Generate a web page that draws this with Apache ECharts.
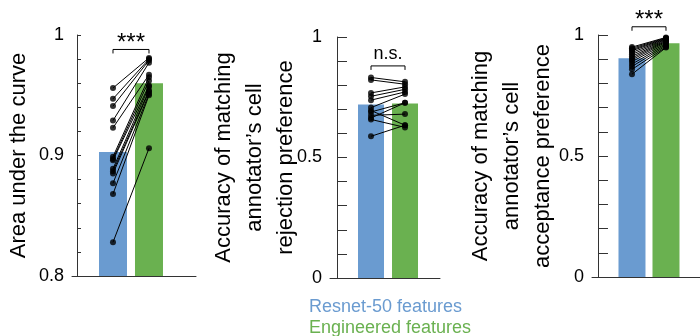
<!DOCTYPE html>
<html>
<head>
<meta charset="utf-8">
<script src="https://cdn.jsdelivr.net/npm/echarts@6/dist/echarts.min.js"></script>
<style>
html,body{margin:0;padding:0;background:#fff;}
#chart{width:700px;height:336px;}
</style>
</head>
<body>
<div id="chart"></div>
<script>
// ---- data ----
const categories = ['Resnet-50 features', 'Engineered features'];
const catPos = [1, 2];

// Panel 1: Area under the curve
const aucResnet     = [0.956, 0.947, 0.941, 0.929, 0.923, 0.899, 0.897, 0.896, 0.889, 0.887, 0.885, 0.877, 0.868, 0.828];
const aucEngineered = [0.981, 0.980, 0.979, 0.977, 0.967, 0.965, 0.962, 0.958, 0.957, 0.954, 0.953, 0.951, 0.950, 0.906];
const aucMeans      = [0.903, 0.960];

// Panel 2: rejection preference accuracy
const rejResnet     = [0.832, 0.822, 0.768, 0.754, 0.738, 0.707, 0.695, 0.689, 0.675, 0.664, 0.658, 0.588];
const rejEngineered = [0.814, 0.804, 0.793, 0.783, 0.772, 0.763, 0.634, 0.727, 0.680, 0.727, 0.625, 0.634];
const rejMeans      = [0.720, 0.724];

// Panel 3: acceptance preference accuracy
const accResnet     = [0.950, 0.945, 0.940, 0.935, 0.928, 0.920, 0.912, 0.905, 0.898, 0.890, 0.880, 0.870, 0.858, 0.838];
const accEngineered = [0.990, 0.988, 0.986, 0.984, 0.982, 0.980, 0.977, 0.974, 0.970, 0.965, 0.960, 0.955, 0.950, 0.948];
const accMeans      = [0.904, 0.966];

// tick values & labels
const yTicksAuc  = [0.8, 0.82, 0.84, 0.86, 0.88, 0.9, 0.92, 0.94, 0.96, 0.98, 1.0];
const yLabelsAuc = [0.8, 0.9, 1];
const yTicksAcc  = [0, 0.1, 0.2, 0.3, 0.4, 0.5, 0.6, 0.7, 0.8, 0.9, 1.0];
const yLabelsAcc = [0, 0.5, 1];

// significance annotations
const sigLabels = ['***', 'n.s.', '***'];
const sigLevels = [0.988, 0.880, 1.034];

const yTitles = [
  'Area under the curve',
  "Accuracy of matching\nannotator\u2019s cell\nrejection preference",
  "Accuracy of matching\nannotator\u2019s cell\nacceptance preference"
];

// ---- styling ----
const BLUE = '#6a9bd0';
const GREEN = '#6ab150';
const FONT = '"Liberation Sans", Arial, Helvetica, sans-serif';
const AXIS = '#333';

const panels = [
  { res: aucResnet, eng: aucEngineered, means: aucMeans, ymin: 0.8, ymax: 1, ticks: yTicksAuc, labels: yLabelsAuc,
    grid: { left: 72, top: 35, width: 124, height: 241 }, xmin: -0.139, xmax: 3.306, nameGap: 38, tickLen: 4, barWidth: 28 },
  { res: rejResnet, eng: rejEngineered, means: rejMeans, ymin: 0, ymax: 1, ticks: yTicksAcc, labels: yLabelsAcc,
    grid: { left: 330, top: 37, width: 110, height: 241 }, xmin: -0.206, xmax: 3.029, nameGap: 29, tickLen: 10, barWidth: 26 },
  { res: accResnet, eng: accEngineered, means: accMeans, ymin: 0, ymax: 1, ticks: yTicksAcc, labels: yLabelsAcc,
    grid: { left: 592, top: 35, width: 108, height: 242 }, xmin: -0.176, xmax: 3.0, nameGap: 34, tickLen: 10, barWidth: 27 }
];

const grid = [], xAxis = [], yAxis = [], series = [];

panels.forEach((p, i) => {
  grid.push(Object.assign({ containLabel: false }, p.grid));
  xAxis.push({
    type: 'value', gridIndex: i, min: p.xmin, max: p.xmax,
    axisLine: { show: true, lineStyle: { color: AXIS, width: 1 } },
    axisTick: { show: true, inside: true, length: 6, customValues: catPos, lineStyle: { color: AXIS } },
    axisLabel: { show: false },
    splitLine: { show: false }
  });
  yAxis.push({
    type: 'value', gridIndex: i, min: p.ymin, max: p.ymax,
    name: yTitles[i], nameLocation: 'middle', nameGap: p.nameGap, nameMoveOverlap: false,
    nameTextStyle: { fontSize: 22, color: '#000', fontFamily: FONT, lineHeight: 31, align: 'center' },
    axisLine: { show: true, lineStyle: { color: AXIS, width: 1 } },
    axisTick: { show: true, inside: true, length: p.tickLen, customValues: p.ticks, lineStyle: { color: AXIS } },
    axisLabel: { show: true, customValues: p.labels, fontSize: 18, color: '#000', fontFamily: FONT, margin: 8,
      formatter: v => String(+v.toFixed(2)) },
    splitLine: { show: false }
  });
  // bars
  series.push({
    type: 'bar', name: categories[0], xAxisIndex: i, yAxisIndex: i, barWidth: p.barWidth,
    data: [[catPos[0], p.means[0]]], itemStyle: { color: BLUE }, z: 1, silent: true
  });
  series.push({
    type: 'bar', name: categories[1], xAxisIndex: i, yAxisIndex: i, barWidth: p.barWidth, barGap: '-100%',
    data: [[catPos[1], p.means[1]]], itemStyle: { color: GREEN }, z: 1, silent: true
  });
  // paired lines
  series.push({
    type: 'lines', coordinateSystem: 'cartesian2d', xAxisIndex: i, yAxisIndex: i, z: 3, silent: true,
    lineStyle: { color: '#000', width: 1, opacity: 1 },
    data: p.res.map((v, k) => ({ coords: [[catPos[0], v], [catPos[1], p.eng[k]]] }))
  });
  // points
  series.push({
    type: 'scatter', xAxisIndex: i, yAxisIndex: i, symbolSize: 6, z: 4, silent: true,
    itemStyle: { color: '#000' },
    data: p.res.map(v => [catPos[0], v]).concat(p.eng.map(v => [catPos[1], v]))
  });
  // significance bracket
  const label = sigLabels[i];
  const star = label === '***';
  series.push({
    type: 'custom', xAxisIndex: i, yAxisIndex: i, z: 5, silent: true, clip: false,
    data: [[catPos[0], catPos[1], sigLevels[i]]],
    renderItem: (params, api) => {
      const a = api.coord([api.value(0), api.value(2)]);
      const b = api.coord([api.value(1), api.value(2)]);
      return {
        type: 'group',
        children: [
          { type: 'polyline', shape: { points: [[a[0], a[1] + 4], [a[0], a[1]], [b[0], b[1]], [b[0], b[1] + 4]] },
            style: { stroke: '#000', fill: null, lineWidth: 1 } },
          { type: 'text', x: (a[0] + b[0]) / 2, y: a[1] + (star ? 6 : -3),
            style: { text: label, fontSize: star ? 24 : 18, fontFamily: FONT, fill: '#000', align: 'center', verticalAlign: 'bottom' } }
        ]
      };
    }
  });
});

const legendBase = {
  orient: 'vertical', left: 304, icon: 'none', itemWidth: 0, itemHeight: 14, selectedMode: false,
  padding: 0, textStyle: { fontSize: 18, fontFamily: FONT }
};

const chart = echarts.init(document.getElementById('chart'), null, { renderer: 'canvas' });
chart.setOption({
  animation: false,
  backgroundColor: '#fff',
  grid, xAxis, yAxis, series,
  legend: [
    Object.assign({}, legendBase, { top: 298, data: [{ name: categories[0], textStyle: { color: BLUE } }] }),
    Object.assign({}, legendBase, { top: 319, data: [{ name: categories[1], textStyle: { color: GREEN } }] })
  ]
});
</script>
</body>
</html>
